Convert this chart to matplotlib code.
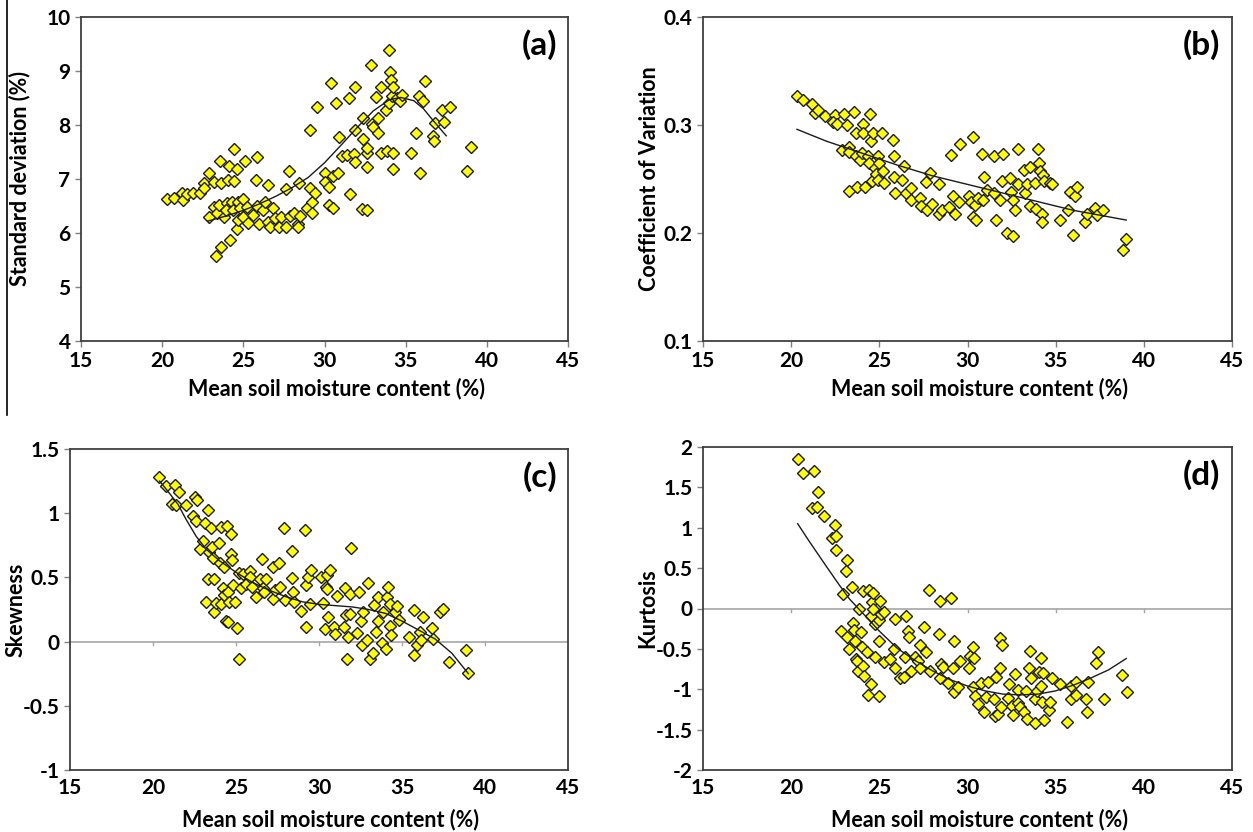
import numpy as np
import matplotlib.pyplot as plt
from matplotlib.lines import Line2D

plt.rcParams['font.family'] = ['Lato', 'DejaVu Sans']
plt.rcParams['font.weight'] = 'bold'

# (mean soil moisture %, statistic) for each sampling date
sd_points = [
    (20.3, 6.63), (20.7, 6.64), (21.2, 6.74), (21.3, 6.61), (21.5, 6.72), (21.9, 6.74),
    (22.35, 6.75), (22.55, 6.92), (22.6, 6.83), (22.9, 7.12), (22.9, 6.30), (23.2, 6.49),
    (23.2, 6.95), (23.3, 5.57), (23.55, 7.33), (23.65, 5.74), (23.65, 6.93), (23.4, 6.37),
    (23.5, 6.52), (23.8, 6.30), (24.0, 6.55), (23.95, 6.42), (24.1, 7.25), (24.05, 6.98),
    (24.2, 5.87), (24.3, 6.58), (24.4, 7.56), (24.4, 6.97), (24.35, 6.43), (24.6, 6.07),
    (24.6, 7.18), (24.7, 6.58), (24.7, 6.24), (24.8, 6.46), (25.0, 6.63), (25.0, 6.30),
    (25.1, 7.34), (25.2, 6.49), (25.3, 6.18), (25.6, 6.34), (25.85, 7.40), (25.8, 6.98),
    (25.85, 6.50), (25.95, 6.17), (26.2, 6.43), (26.35, 6.58), (26.55, 6.89), (26.55, 6.21),
    (26.65, 6.12), (26.85, 6.46), (26.95, 6.27), (27.2, 6.11), (27.3, 6.30), (27.6, 6.12),
    (27.65, 6.81), (27.8, 7.14), (27.9, 6.32), (28.1, 6.37), (28.35, 6.17), (28.4, 6.93),
    (28.35, 6.12), (28.5, 6.32), (28.9, 6.46), (29.1, 7.91), (29.1, 6.83), (29.2, 6.58),
    (29.2, 6.37), (29.4, 6.75), (29.55, 8.33), (30.05, 7.11), (30.05, 6.95), (30.3, 6.86),
    (30.4, 8.78), (30.3, 6.52), (30.55, 6.46), (30.55, 7.05), (30.7, 8.41), (30.85, 7.12),
    (30.9, 7.78), (31.1, 7.43), (31.4, 7.45), (31.5, 8.50), (31.6, 6.72), (31.8, 7.47),
    (31.85, 7.32), (31.9, 8.71), (31.9, 7.91), (32.3, 6.44), (32.4, 7.74), (32.4, 8.13),
    (32.6, 6.43), (32.6, 7.23), (32.6, 7.48), (32.6, 7.57), (32.85, 9.12), (32.9, 8.02),
    (33.0, 7.97), (33.2, 8.52), (33.3, 7.86), (33.3, 8.13), (33.5, 8.70), (33.5, 7.49),
    (33.8, 8.27), (33.85, 7.51), (33.95, 8.41), (34.0, 9.39), (34.05, 8.99), (34.1, 8.84),
    (34.15, 8.53), (34.2, 7.48), (34.2, 7.18), (34.25, 8.70), (34.45, 8.50), (34.65, 8.44),
    (34.75, 8.56), (35.3, 7.48), (35.65, 7.86), (35.8, 8.53), (35.9, 7.12), (36.05, 8.44),
    (36.2, 8.81), (36.7, 7.79), (36.75, 7.70), (36.8, 8.03), (37.25, 8.28), (37.35, 8.05),
    (37.75, 8.33), (38.8, 7.14), (39.0, 7.60),
]
cv_points = [
    (20.33, 0.3265), (20.68, 0.323), (21.2, 0.319), (21.37, 0.311), (21.5, 0.314), (21.94, 0.308),
    (22.5, 0.309), (22.4, 0.303), (22.6, 0.301), (22.98, 0.310), (23.14, 0.300), (22.86, 0.277),
    (23.28, 0.280), (23.3, 0.239), (23.55, 0.312), (23.67, 0.293), (23.74, 0.243), (23.3, 0.275),
    (23.67, 0.271), (23.9, 0.268), (24.0, 0.274), (24.1, 0.301), (24.1, 0.293), (24.2, 0.243),
    (24.35, 0.271), (24.4, 0.265), (24.47, 0.310), (24.5, 0.285), (24.6, 0.248), (24.65, 0.293),
    (24.75, 0.260), (24.8, 0.255), (24.9, 0.271), (24.95, 0.249), (25.0, 0.265), (25.15, 0.293),
    (25.2, 0.257), (25.28, 0.246), (25.8, 0.286), (25.85, 0.271), (25.85, 0.252), (25.9, 0.237),
    (26.3, 0.249), (26.4, 0.262), (26.5, 0.237), (26.8, 0.242), (26.8, 0.231), (27.3, 0.232),
    (27.35, 0.225), (27.65, 0.247), (27.7, 0.221), (27.9, 0.256), (28.0, 0.227), (28.4, 0.245),
    (28.4, 0.218), (28.55, 0.221), (28.95, 0.224), (29.07, 0.272), (29.2, 0.234), (29.3, 0.218),
    (29.5, 0.229), (29.6, 0.282), (30.1, 0.234), (30.2, 0.229), (30.3, 0.289), (30.3, 0.215),
    (30.45, 0.226), (30.5, 0.212), (30.6, 0.232), (30.8, 0.273), (30.9, 0.231), (30.95, 0.252),
    (31.1, 0.240), (31.5, 0.237), (31.5, 0.271), (31.6, 0.212), (31.87, 0.231), (31.95, 0.248),
    (32.0, 0.273), (32.25, 0.200), (32.4, 0.251), (32.47, 0.238), (32.6, 0.197), (32.6, 0.231),
    (32.7, 0.221), (32.86, 0.278), (32.86, 0.245), (33.2, 0.258), (33.25, 0.237), (33.4, 0.245),
    (33.55, 0.261), (33.55, 0.225), (33.8, 0.246), (33.9, 0.222), (34.0, 0.278), (34.08, 0.265),
    (34.1, 0.257), (34.25, 0.218), (34.25, 0.210), (34.3, 0.254), (34.35, 0.248), (34.7, 0.246),
    (34.8, 0.245), (35.27, 0.212), (35.7, 0.221), (35.8, 0.238), (35.97, 0.198), (36.08, 0.234),
    (36.2, 0.243), (36.66, 0.210), (36.77, 0.218), (37.23, 0.223), (37.35, 0.217), (37.7, 0.221),
    (38.84, 0.184), (39.0, 0.194),
]
skew_points = [
    (20.35, 1.279), (20.77, 1.214), (21.16, 1.071), (21.32, 1.222), (21.39, 1.066), (21.55, 1.162),
    (21.96, 1.066), (22.42, 0.975), (22.53, 1.126), (22.6, 0.936), (22.65, 1.105), (22.83, 0.720),
    (22.99, 0.785), (23.15, 0.923), (23.3, 1.022), (23.34, 0.487), (23.22, 0.305), (23.38, 0.694),
    (23.52, 0.884), (23.57, 0.736), (23.6, 0.650), (23.7, 0.487), (23.7, 0.234), (23.8, 0.299),
    (23.98, 0.767), (24.03, 0.611), (24.07, 0.294), (24.07, 0.892), (24.2, 0.416), (24.3, 0.580),
    (24.3, 0.364), (24.37, 0.164), (24.44, 0.897), (24.49, 0.149), (24.53, 0.390), (24.6, 0.312),
    (24.67, 0.840), (24.72, 0.684), (24.76, 0.637), (24.83, 0.442), (24.95, 0.312), (25.06, 0.104),
    (25.18, -0.137), (25.18, 0.538), (25.3, 0.416), (25.4, 0.528), (25.6, 0.450), (25.87, 0.546),
    (25.87, 0.507), (25.98, 0.429), (26.2, 0.346), (26.44, 0.487), (26.55, 0.642), (26.6, 0.416),
    (26.67, 0.383), (26.83, 0.487), (27.2, 0.331), (27.24, 0.580), (27.36, 0.403), (27.59, 0.611),
    (27.66, 0.429), (27.89, 0.884), (27.93, 0.325), (28.35, 0.702), (28.4, 0.494), (28.44, 0.383),
    (28.51, 0.305), (28.9, 0.242), (29.13, 0.866), (29.2, 0.117), (29.2, 0.442), (29.31, 0.507),
    (29.54, 0.559), (29.43, 0.294), (30.12, 0.507), (30.23, 0.299), (30.35, 0.097), (30.42, 0.429),
    (30.46, 0.520), (30.5, 0.409), (30.57, 0.190), (30.69, 0.554), (30.92, 0.117), (30.97, 0.060),
    (31.1, 0.357), (31.5, 0.117), (31.56, 0.416), (31.6, 0.208), (31.66, -0.137), (31.72, 0.034),
    (31.84, 0.372), (31.95, 0.728), (31.88, 0.216), (32.3, 0.065), (32.41, 0.383), (32.53, 0.157),
    (32.57, -0.026), (32.64, 0.227), (32.87, 0.013), (32.94, 0.455), (33.1, -0.137), (33.26, -0.090),
    (33.33, 0.286), (33.45, 0.078), (33.56, 0.351), (33.56, 0.157), (33.8, -0.013), (33.86, 0.234),
    (34.02, -0.060), (34.09, 0.351), (34.14, 0.429), (34.25, 0.122), (34.25, 0.294), (34.32, 0.052),
    (34.6, 0.227), (34.7, 0.278), (34.83, 0.169), (35.4, 0.034), (35.74, 0.247), (35.7, -0.104),
    (35.93, -0.026), (36.09, 0.078), (36.16, 0.013), (36.25, 0.190), (36.78, 0.104), (36.85, 0.021),
    (37.31, 0.234), (37.47, 0.252), (37.81, -0.155), (38.85, -0.065), (38.96, -0.246),
]
kurt_points = [
    (20.37, 1.851), (20.65, 1.678), (21.3, 1.702), (21.18, 1.240), (21.44, 1.256), (21.53, 1.446),
    (21.88, 1.149), (22.34, 0.872), (22.5, 1.037), (22.57, 0.893), (22.57, 0.719), (23.15, 0.595),
    (23.1, 0.459), (22.92, 0.178), (22.8, -0.273), (23.15, -0.347), (23.27, -0.504), (23.43, 0.264),
    (23.5, -0.174), (23.57, -0.264), (23.62, -0.397), (23.66, -0.628), (23.73, -0.645), (23.8, -0.769),
    (23.85, -0.004), (23.96, -0.285), (24.03, -0.479), (24.08, 0.211), (24.08, -0.711), (24.13, -0.835),
    (24.31, -0.533), (24.36, -1.070), (24.43, 0.231), (24.5, -0.095), (24.54, -0.934), (24.59, 0.079),
    (24.66, -0.004), (24.66, 0.198), (24.73, -0.595), (24.77, -0.186), (24.96, -0.397), (24.96, -1.083),
    (25.0, -0.145), (25.05, 0.095), (25.12, -0.062), (25.24, -0.657), (25.28, -0.045), (25.59, -0.628),
    (25.82, -0.504), (25.89, -0.128), (25.89, -0.740), (26.17, -0.864), (26.4, -0.843), (26.44, -0.603),
    (26.51, -0.087), (26.63, -0.273), (26.67, -0.347), (26.81, -0.769), (27.05, -0.603), (27.2, -0.645),
    (27.28, -0.450), (27.32, -0.740), (27.56, -0.223), (27.67, -0.533), (27.79, 0.223), (27.9, -0.769),
    (28.37, -0.314), (28.44, 0.095), (28.44, -0.864), (28.48, -0.686), (28.6, -0.719), (28.9, -0.926),
    (29.06, 0.128), (29.18, -0.740), (29.22, -0.397), (29.22, -1.029), (29.45, -0.975), (29.59, -0.645),
    (30.06, -0.740), (30.15, -0.587), (30.29, -0.967), (30.33, -0.479), (30.38, -0.616), (30.45, -1.083),
    (30.57, -1.182), (30.75, -0.917), (30.91, -1.277), (31.03, -1.099), (31.15, -0.905), (31.49, -1.124),
    (31.54, -1.331), (31.6, -0.843), (31.72, -1.306), (31.84, -0.740), (31.84, -0.368), (31.96, -0.450),
    (31.91, -1.215), (32.3, -1.112), (32.37, -0.934), (32.54, -1.207), (32.6, -1.318), (32.7, -0.810),
    (32.84, -1.008), (32.88, -1.165), (33.0, -1.223), (33.23, -1.277), (33.3, -1.017), (33.35, -1.372),
    (33.46, -0.740), (33.53, -0.521), (33.58, -0.864), (33.81, -1.421), (33.81, -1.124), (33.93, -1.017),
    (34.04, -0.781), (34.16, -0.616), (34.16, -0.959), (34.23, -1.153), (34.27, -0.798), (34.32, -1.380),
    (34.62, -1.256), (34.69, -1.153), (34.78, -0.864), (35.25, -0.934), (35.62, -1.401), (35.85, -0.959),
    (35.89, -1.124), (36.13, -1.070), (36.17, -0.905), (36.7, -1.124), (36.77, -1.277), (36.82, -0.905),
    (37.28, -0.678), (37.4, -0.533), (37.75, -1.124), (38.79, -0.822), (39.02, -1.029),
]

# fitted trend lines
sd_trend = [
    (22.8, 6.22), (24.0, 6.32), (25.0, 6.42), (26.0, 6.54), (27.0, 6.68), (28.0, 6.84),
    (29.0, 7.03), (30.0, 7.30), (31.0, 7.62), (32.0, 7.95), (33.0, 8.26), (34.0, 8.47),
    (34.7, 8.51), (35.5, 8.45), (36.1, 8.30), (36.7, 8.08), (37.5, 7.80),
]
cv_trend = [
    (20.33, 0.296), (22.0, 0.285), (24.0, 0.274), (26.0, 0.263), (28.0, 0.253), (30.0, 0.245),
    (32.0, 0.237), (34.0, 0.229), (36.0, 0.221), (38.0, 0.215), (39.0, 0.212),
]
skew_trend = [
    (20.4, 1.25), (20.9, 1.17), (21.5, 1.07), (22.0, 0.95), (22.6, 0.82), (23.2, 0.72),
    (24.0, 0.63), (25.0, 0.54), (26.0, 0.46), (27.0, 0.40), (28.0, 0.35), (29.0, 0.31),
    (30.0, 0.29), (31.0, 0.28), (32.0, 0.27), (33.0, 0.25), (34.0, 0.22), (35.0, 0.16),
    (36.0, 0.09), (37.0, 0.02), (38.0, -0.09), (39.0, -0.25),
]
kurt_trend = [
    (20.37, 1.05), (21.0, 0.84), (21.5, 0.68), (22.0, 0.52), (22.7, 0.30), (23.3, 0.12),
    (23.85, -0.01), (24.5, -0.16), (25.0, -0.28), (26.0, -0.49), (27.0, -0.64), (28.0, -0.77),
    (29.0, -0.88), (30.0, -0.96), (31.0, -1.02), (32.0, -1.06), (33.0, -1.07), (34.0, -1.06),
    (35.0, -1.02), (36.0, -0.95), (37.0, -0.86), (38.0, -0.76), (39.0, -0.62),
]

x_ticks = [15, 20, 25, 30, 35, 40, 45]
xlabel = 'Mean soil moisture content (%)'

panels = [
    # points, trend, y label, y ticks, y tick labels, tag,
    # box (left, right, top, bottom px), y-label centre x px, x-label centre y px
    (sd_points, sd_trend, 'Standard deviation (%)', [4, 5, 6, 7, 8, 9, 10],
     ['4', '5', '6', '7', '8', '9', '10'], '(a)', (81, 568, 17, 341), 20, 389),
    (cv_points, cv_trend, 'Coefficient of Variation', [0.1, 0.2, 0.3, 0.4],
     ['0.1', '0.2', '0.3', '0.4'], '(b)', (703, 1232, 17, 341), 650, 389),
    (skew_points, skew_trend, 'Skewness', [-1, -0.5, 0, 0.5, 1, 1.5],
     ['-1', '-0.5', '0', '0.5', '1', '1.5'], '(c)', (70, 568, 449, 770), 16, 820),
    (kurt_points, kurt_trend, 'Kurtosis', [-2, -1.5, -1, -0.5, 0, 0.5, 1, 1.5, 2],
     ['-2', '-1.5', '-1', '-0.5', '0', '0.5', '1', '1.5', '2'], '(d)', (703, 1232, 447, 770), 648, 820),
]

W, H = 1253, 832
fig = plt.figure(figsize=(W / 100, H / 100), dpi=100)

for pts, trend, ylab, yt, ytl, tag, (l, r, t, b), ylx, xly in panels:
    ax = fig.add_axes([l / W, 1 - b / H, (r - l) / W, (b - t) / H])
    px, py = zip(*pts)
    tx, ty = zip(*trend)
    crosses_zero = yt[0] < 0

    if crosses_zero:
        ax.axhline(0, color='#a6a6a6', lw=1.2, zorder=1)
        span = yt[-1] - yt[0]
        for xt in x_ticks[1:-1]:
            ax.plot([xt, xt], [0, -0.012 * span], color='#a6a6a6', lw=1, zorder=1)

    ax.plot(px, py, linestyle='none', marker='D', ms=6.6, mfc='#ffff00',
            mec='#1a1a1a', mew=1.0, zorder=3)
    ax.plot(tx, ty, color='#1a1a1a', lw=1.0, zorder=4)

    ax.set_xlim(15, 45)
    ax.set_ylim(yt[0], yt[-1])
    ax.set_xticks(x_ticks)
    ax.set_yticks(yt)
    ax.set_yticklabels(ytl)
    ax.tick_params(axis='both', labelsize=15, colors='#808080', labelcolor='black',
                   direction='out', length=4, width=1)
    if crosses_zero:
        ax.tick_params(axis='x', length=0, pad=6)
    for s in ax.spines.values():
        s.set_color('#404040')
        s.set_linewidth(1.3)

    ax.set_xlabel(xlabel, fontsize=15.5, fontweight='bold', va='center')
    ax.xaxis.set_label_coords(((l + r) / 2 + 12) / W, 1 - xly / H, transform=fig.transFigure)
    ax.set_ylabel(ylab, fontsize=15.5, fontweight='bold', va='center')
    ax.yaxis.set_label_coords(ylx / W, 1 - (t + b) / 2 / H, transform=fig.transFigure)
    ax.text(0.978, 0.915, tag, transform=ax.transAxes, ha='right', va='center',
            fontsize=24, fontweight='bold')

# thin rule down the left edge of the top row
fig.add_artist(Line2D([7 / W, 7 / W], [1.0, 1 - 415 / H], color='black', lw=1.2))

fig.savefig('out.png', dpi=100)
